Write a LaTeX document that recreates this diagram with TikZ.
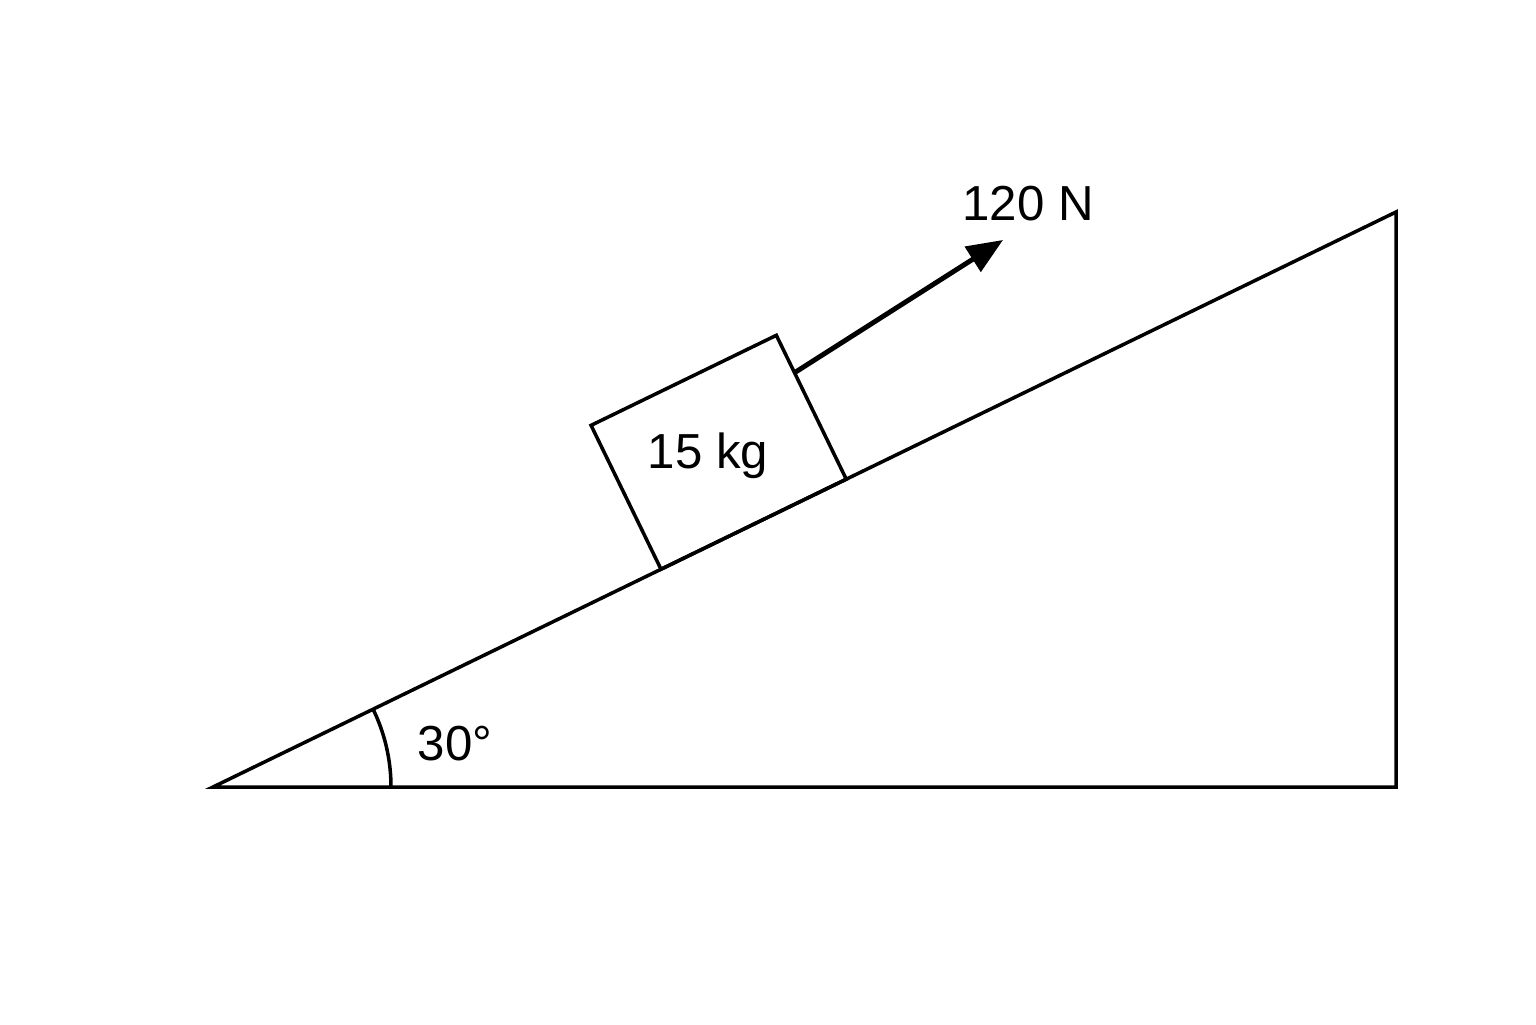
\documentclass[tikz,border=0pt]{standalone}
\usepackage{fontspec}
\setmainfont{Liberation Sans}
\usetikzlibrary{arrows.meta}
\usetikzlibrary{calc}

\begin{document}
\begin{tikzpicture}[line width=1pt,
  lbl/.style={anchor=base, inner sep=0pt, font=\fontsize{14}{16}\selectfont},
  blockbox/.style={draw, rectangle, rotate=25.92, minimum width=2.06cm, minimum height=1.60cm, inner sep=0pt, outer sep=0pt},
  force/.style={line width=1.4pt, -{Triangle[length=3.6mm,width=2.9mm]}}]
\useasboundingbox (0,0) rectangle (15.36,10.24);
% incline
\coordinate (A) at (2.13,2.37);
\coordinate (B) at (13.96,2.37);
\coordinate (C) at (13.96,8.12);
\draw[line join=miter] (A) -- (B) -- (C) -- cycle;
% angle mark
\draw (A) ++(1.78,0) arc[start angle=0, end angle=25.92, radius=1.78];
\node[lbl] (ang) at (4.55,2.64) {30°};
% block on the slope
\node[blockbox, anchor=south] (blk) at ($(A)!0.457!(C)$) {};
\node[lbl] (mass) at (7.08,5.56) {15 kg};
% pulling force
\coordinate (tip) at (10.03,7.84);
\draw[force] ($(blk.north east)!0.26!(blk.south east)$) -- (tip);
\node[lbl] (pull) at (10.28,8.04) {120 N};
\end{tikzpicture}
\end{document}
